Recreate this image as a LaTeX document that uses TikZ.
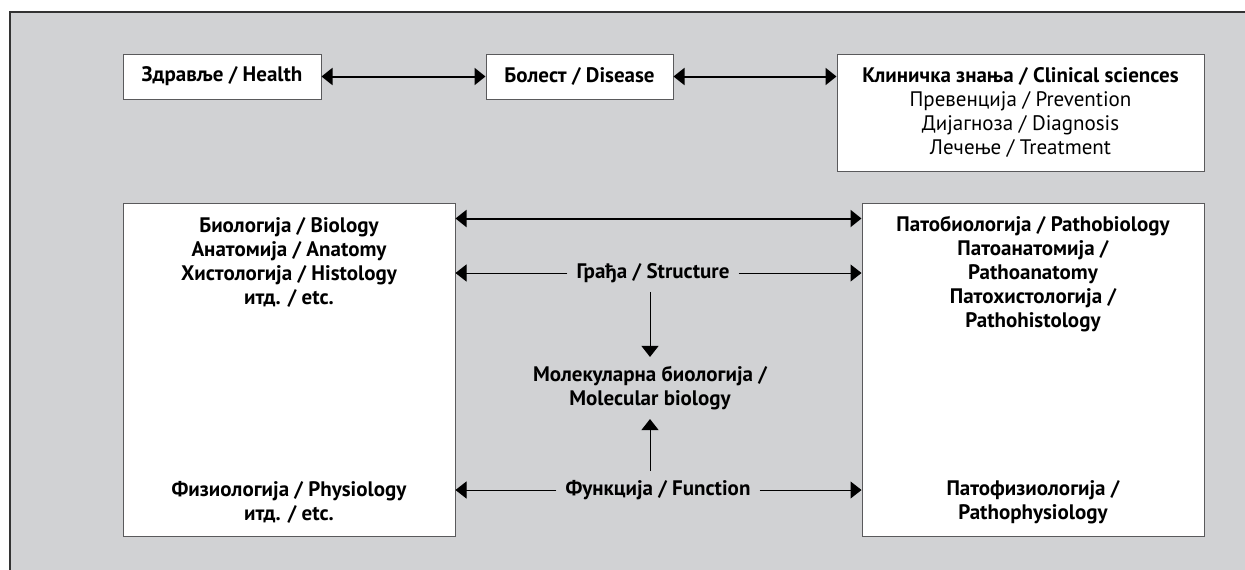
\documentclass[tikz,border=0pt]{standalone}
\usepackage{fontspec}
\setmainfont{PT Sans}
\usetikzlibrary{arrows.meta}

\definecolor{bggray}{HTML}{D1D2D4}
\definecolor{edgegray}{HTML}{5A5A5C}

\begin{document}
\begin{tikzpicture}[x=1pt,y=-1pt]
      \tikzstyle{box}=[rectangle,draw=edgegray,fill=white,line width=1pt,inner sep=0pt]
      \tikzstyle{lbl}=[align=center,font=\bfseries\fontsize{21}{24}\selectfont,inner sep=0pt]
      \tikzstyle{mid}=[lbl,inner xsep=9pt,inner ysep=9pt]
      \tikzstyle{link}=[line width=2pt,{Triangle[length=11pt,width=17pt]}-{Triangle[length=11pt,width=17pt]}]
      \tikzstyle{flow}=[line width=1pt,-{Triangle[length=11pt,width=17pt]}]

      % page and frame
      \useasboundingbox (0,0) rectangle (1245,570);
      \fill[bggray] (10,12) rectangle (1245,570);
      \draw[line width=1.5pt,black!80] (10,570) -- (10,12) -- (1245,12);

      % top row
      \node[box,lbl,minimum width=198pt,minimum height=45pt] (health) at (222,76.5) {Здравље / Health};
      \node[box,lbl,minimum width=187pt,minimum height=45pt] (disease) at (579.5,76.5) {Болест / Disease};
      \node[box,lbl,font=\mdseries\fontsize{21}{24}\selectfont,minimum width=367pt,minimum height=117pt] (clinical) at (1020.5,112.5)
        {{\bfseries Клиничка знања / Clinical sciences}\\Превенција / Prevention\\Дијагноза / Diagnosis\\Лечење / Treatment};

      \path[link]
      (health) edge (disease)
      (disease) edge (clinical.west |- disease);

      % big boxes
      \node[box,minimum width=332pt,minimum height=333pt] (normal) at (289,369.5) {};
      \node[box,minimum width=342pt,minimum height=333pt] (patho) at (1033,369.5) {};

      \node[lbl] (biotxt) at (289,262.5) {Биологија / Biology\\Анатомија / Anatomy\\Хистологија / Histology\\итд. / etc.};
      \node[lbl] (physiotxt) at (289,502.5) {Физиологија / Physiology\\итд. / etc.};
      \node[lbl] (pathobiotxt) at (1033,274.5) {Патобиологија / Pathobiology\\Патоанатомија /\\Pathoanatomy\\Патохистологија /\\Pathohistology};
      \node[lbl] (pathophystxt) at (1033,502.5) {Патофизиологија /\\Pathophysiology};

      % middle
      \node[mid] (struct) at (653,273) {Грађа / Structure};
      \node[mid] (molec) at (650,388) {Молекуларна биологија /\\Molecular biology};
      \node[mid] (func) at (658,490) {Функција / Function};

      \draw[link] ([yshift=-16pt]normal.north east) -- ([yshift=-16pt]patho.north west);
      \path[flow]
      (struct) edge (normal.east |- struct)
      (struct) edge (patho.west |- struct)
      (molec |- struct.south) edge (molec.north)
      (molec |- func.north) edge (molec.south)
      (func) edge (normal.east |- func)
      (func) edge (patho.west |- func);
\end{tikzpicture}
\end{document}
